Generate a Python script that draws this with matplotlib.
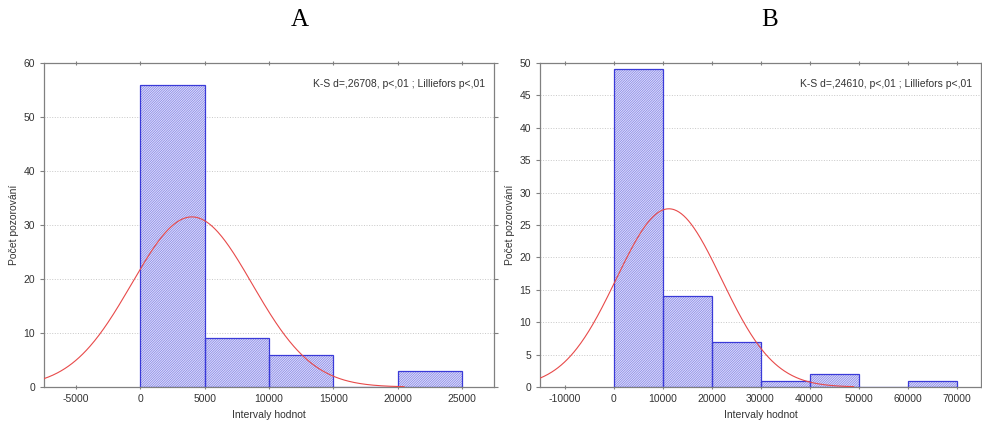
import numpy as np
import matplotlib
matplotlib.use("Agg")
import matplotlib.pyplot as plt

# panel A: histogram counts per 5000-wide bin
a_edges = [0, 5000, 10000, 15000, 20000, 25000]
a_counts = [56, 9, 6, 0, 3]
a_mean, a_sd, a_n = 4000, 4686, 74
a_xlim = (-7500, 27500)
a_ylim = (0, 60)
a_xticks = [-5000, 0, 5000, 10000, 15000, 20000, 25000]
a_yticks = [0, 10, 20, 30, 40, 50, 60]
a_curve_end = 20500
a_stat = "K-S d=,26708, p<,01 ; Lilliefors p<,01"

# panel B: histogram counts per 10000-wide bin
b_edges = [0, 10000, 20000, 30000, 40000, 50000, 60000, 70000]
b_counts = [49, 14, 7, 1, 2, 0, 1]
b_mean, b_sd, b_n = 11300, 10735, 74
b_xlim = (-15000, 75000)
b_ylim = (0, 50)
b_xticks = [-10000, 0, 10000, 20000, 30000, 40000, 50000, 60000, 70000]
b_yticks = [0, 5, 10, 15, 20, 25, 30, 35, 40, 45, 50]
b_curve_end = 49000
b_stat = "K-S d=,24610, p<,01 ; Lilliefors p<,01"

plt.rcParams["font.family"] = ["Liberation Sans", "DejaVu Sans"]
plt.rcParams["hatch.linewidth"] = 0.45
plt.rcParams["axes.unicode_minus"] = False

FILL = "#dedef9"
HATCH = "#7a7ae6"
EDGE = "#3a3ad8"
GRAY = "#808080"


def draw_panel(ax, edges, counts, mean, sd, n, xlim, ylim, xticks, yticks, curve_end, stat):
    widths = np.diff(edges)
    lefts = np.array(edges[:-1])
    # hatched fill first, then the blue outline on top
    ax.bar(lefts, counts, width=widths, align="edge", facecolor=FILL,
           edgecolor=HATCH, linewidth=0, hatch="/" * 14, zorder=2)
    ax.bar(lefts, counts, width=widths, align="edge", fill=False,
           edgecolor=EDGE, linewidth=0.9, zorder=2)

    bw = widths[0]
    x = np.linspace(xlim[0], curve_end, 400)
    y = n * bw / (sd * np.sqrt(2 * np.pi)) * np.exp(-0.5 * ((x - mean) / sd) ** 2)
    ax.plot(x, y, color="#e84a4a", linewidth=0.8, zorder=3)

    ax.set_xlim(*xlim)
    ax.set_ylim(*ylim)
    ax.set_xticks(xticks)
    ax.set_yticks(yticks)
    ax.yaxis.grid(True, linestyle=":", color="#c8c8c8", linewidth=0.7, zorder=0)
    ax.set_axisbelow(True)
    ax.tick_params(labelsize=7.5, length=3, color=GRAY, labelcolor="#333333",
                   top=True, right=True, direction="out")
    ax.tick_params(axis="x", top=True, direction="inout")
    for s in ax.spines.values():
        s.set_color(GRAY)
        s.set_linewidth(0.9)
    ax.set_xlabel("Intervaly hodnot", fontsize=7.5, color="#333333", labelpad=4)
    ax.set_ylabel("Počet pozorování", fontsize=7.5, color="#333333", labelpad=3)
    ax.text(0.98, 0.935, stat, transform=ax.transAxes, ha="right", va="center",
            fontsize=7.5, color="#333333")


fig = plt.figure(figsize=(9.82, 4.21), dpi=100)
ax_a = fig.add_axes([44 / 982, 34 / 421, 450 / 982, 324 / 421])
ax_b = fig.add_axes([540 / 982, 34 / 421, 441 / 982, 324 / 421])

draw_panel(ax_a, a_edges, a_counts, a_mean, a_sd, a_n, a_xlim, a_ylim,
           a_xticks, a_yticks, a_curve_end, a_stat)
draw_panel(ax_b, b_edges, b_counts, b_mean, b_sd, b_n, b_xlim, b_ylim,
           b_xticks, b_yticks, b_curve_end, b_stat)

fig.text(300 / 982, 1 - 20 / 421, "A", ha="center", va="center", fontsize=18,
         family="Liberation Serif")
fig.text(770 / 982, 1 - 20 / 421, "B", ha="center", va="center", fontsize=18,
         family="Liberation Serif")

fig.savefig("out.png", dpi=100)
